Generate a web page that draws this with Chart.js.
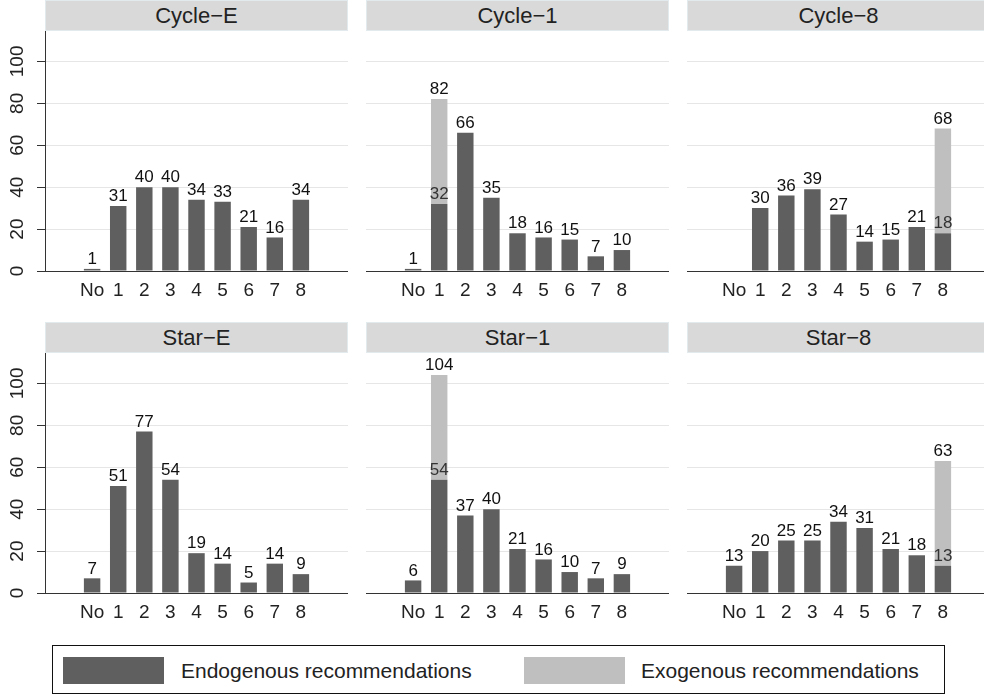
<!DOCTYPE html>
<html>
<head>
<meta charset="utf-8">
<script src="https://cdn.jsdelivr.net/npm/chart.js@4.4.1/dist/chart.umd.min.js"></script>
<style>
  body { margin: 0; width: 984px; height: 696px; overflow: hidden; background: #fff;
         font-family: "Liberation Sans", Arial, sans-serif; position: relative; }
  .head { position: absolute; height: 29px; width: 301px; background: #d9d9d9;
          border: 1px solid #e3eaed; color: #222; font-size: 22px; line-height: 29px; text-align: center; }
  canvas { position: absolute; }
  #legend { position: absolute; left: 52px; top: 645px; width: 891px; height: 47px;
            border: 1.5px solid #111; }
  .sw { position: absolute; top: 11px; width: 101px; height: 27px; }
  .lt { position: absolute; top: 11px; line-height: 27px; font-size: 21px; color: #222; }
</style>
</head>
<body>

<script>
// categories and tick labels
const cats = ['No', '1', '2', '3', '4', '5', '6', '7', '8'];
const yTicks = [0, 20, 40, 60, 80, 100];
const titles = ['Cycle−E', 'Cycle−1', 'Cycle−8', 'Star−E', 'Star−1', 'Star−8'];
const seriesNames = ['Endogenous recommendations', 'Exogenous recommendations'];

// values
const endoCycleE = [1, 31, 40, 40, 34, 33, 21, 16, 34];
const exoCycleE  = [0, 0, 0, 0, 0, 0, 0, 0, 0];
const endoCycle1 = [1, 32, 66, 35, 18, 16, 15, 7, 10];
const exoCycle1  = [0, 50, 0, 0, 0, 0, 0, 0, 0];
const endoCycle8 = [0, 30, 36, 39, 27, 14, 15, 21, 18];
const exoCycle8  = [0, 0, 0, 0, 0, 0, 0, 0, 50];
const endoStarE  = [7, 51, 77, 54, 19, 14, 5, 14, 9];
const exoStarE   = [0, 0, 0, 0, 0, 0, 0, 0, 0];
const endoStar1  = [6, 54, 37, 40, 21, 16, 10, 7, 9];
const exoStar1   = [0, 50, 0, 0, 0, 0, 0, 0, 0];
const endoStar8  = [13, 20, 25, 25, 34, 31, 21, 18, 13];
const exoStar8   = [0, 0, 0, 0, 0, 0, 0, 0, 50];

const endoAll = [endoCycleE, endoCycle1, endoCycle8, endoStarE, endoStar1, endoStar8];
const exoAll  = [exoCycleE, exoCycle1, exoCycle8, exoStarE, exoStar1, exoStar8];

const darkCol = '#5f5f5f';
const lightCol = '#bfbfbf';
const fontFam = '"Liberation Sans", Arial, sans-serif';

// draw the numbers on top of the bars
const barLabels = {
  id: 'barLabels',
  afterDatasetsDraw(chart) {
    const ctx = chart.ctx;
    const m0 = chart.getDatasetMeta(0);
    const m1 = chart.getDatasetMeta(1);
    const d0 = chart.data.datasets[0].data;
    const d1 = chart.data.datasets[1].data;
    ctx.save();
    ctx.font = '17px ' + fontFam;
    ctx.textAlign = 'center';
    ctx.textBaseline = 'bottom';
    for (let i = 0; i < d0.length; i++) {
      const e = d0[i].y, x = d1[i].y;
      const b0 = m0.data[i], b1 = m1.data[i];
      if (x > 0) {
        ctx.fillStyle = '#111';
        ctx.fillText(String(e + x), b1.x, b1.y - 1);
        ctx.fillStyle = '#333';
        ctx.fillText(String(e), b0.x, b0.y - 1);
      } else if (e > 0) {
        ctx.fillStyle = '#111';
        ctx.fillText(String(e), b0.x, b0.y - 1);
      }
    }
    ctx.restore();
  }
};

const colLeft = [45, 366, 687];
const rowTop = [0, 322];

for (let p = 0; p < 6; p++) {
  const col = p % 3, row = Math.floor(p / 3);
  const first = col === 0;

  const head = document.createElement('div');
  head.className = 'head';
  head.style.left = colLeft[col] + 'px';
  head.style.top = rowTop[row] + 'px';
  head.textContent = titles[p];
  document.body.appendChild(head);

  const cv = document.createElement('canvas');
  const yw = first ? 45 : 0;
  cv.width = 303 + yw;
  cv.height = 270;
  cv.style.left = (colLeft[col] - yw) + 'px';
  cv.style.top = (rowTop[row] + 31) + 'px';
  document.body.appendChild(cv);

  new Chart(cv, {
    type: 'bar',
    data: {
      datasets: [
        { label: seriesNames[0], data: endoAll[p].map((v, i) => ({ x: i, y: v })),
          backgroundColor: darkCol, borderWidth: 0 },
        { label: seriesNames[1], data: exoAll[p].map((v, i) => ({ x: i, y: v })),
          backgroundColor: lightCol, borderWidth: 0 }
      ]
    },
    options: {
      responsive: false,
      animation: false,
      layout: { padding: 0 },
      barPercentage: 0.63,
      categoryPercentage: 1,
      plugins: { legend: { display: false }, tooltip: { enabled: false } },
      scales: {
        x: {
          type: 'linear', stacked: true, min: -1.16, max: 9.16,
          grid: { display: false, drawTicks: true, tickLength: 8 },
          border: { display: true, color: '#333', width: 1 },
          ticks: { padding: 0, color: '#222', font: { size: 19, family: fontFam },
                   maxRotation: 0, callback: v => cats[v] },
          afterBuildTicks: s => { s.ticks = cats.map((c, i) => ({ value: i })); },
          afterFit: s => { s.height = 30; s.paddingLeft = 0; s.paddingRight = 0; }
        },
        y: {
          stacked: true, min: 0, max: 114.5,
          grid: {
            color: c => c.tick.value === 0 ? 'rgba(0,0,0,0)' : '#e6e6e6',
            drawTicks: first, tickLength: 8, tickColor: '#333', lineWidth: 1
          },
          border: { display: first, color: '#333', width: 1 },
          ticks: { display: first, padding: 3, color: '#222', minRotation: 90, maxRotation: 90,
                   crossAlign: 'center', font: { size: 19, family: fontFam } },
          afterBuildTicks: s => { s.ticks = yTicks.map(v => ({ value: v })); },
          afterFit: s => { s.width = yw; s.paddingTop = 0; s.paddingBottom = 0; }
        }
      }
    },
    plugins: [barLabels]
  });
}

// legend box
const lg = document.createElement('div');
lg.id = 'legend';
lg.innerHTML =
  '<div class="sw" style="left:10px;background:' + darkCol + '"></div>' +
  '<div class="lt" style="left:128px">' + seriesNames[0] + '</div>' +
  '<div class="sw" style="left:471px;background:' + lightCol + '"></div>' +
  '<div class="lt" style="left:588px">' + seriesNames[1] + '</div>';
document.body.appendChild(lg);
</script>
</body>
</html>
